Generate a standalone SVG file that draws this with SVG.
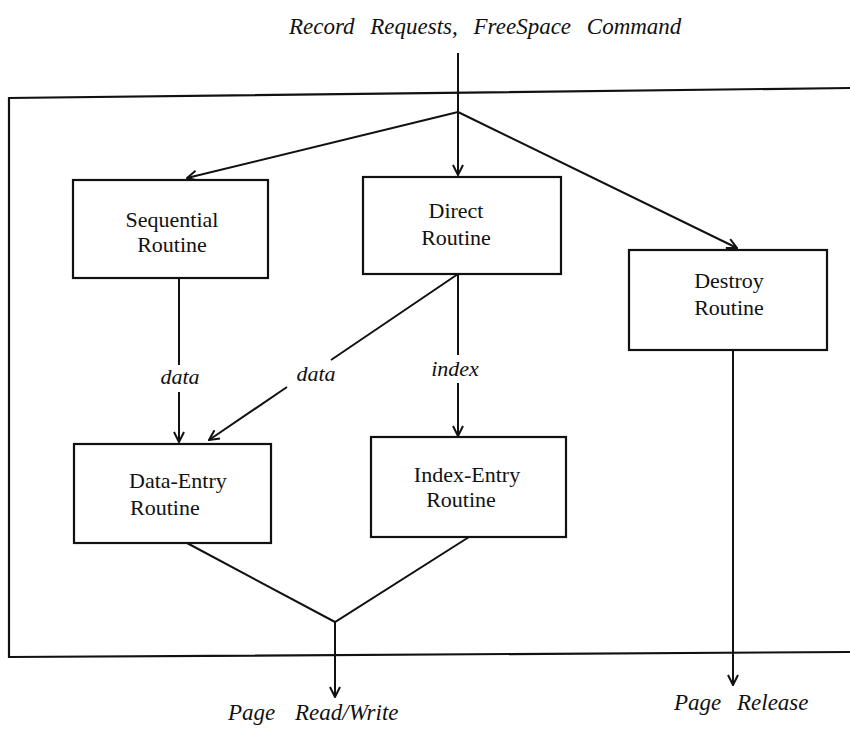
<svg xmlns="http://www.w3.org/2000/svg" width="850" height="729" viewBox="0 0 850 729">
<style>
.box{fill:#fff;stroke:#111;stroke-width:2.2}
.t{font-family:"Liberation Serif",serif;font-size:22px;fill:#111}
.lab{font-family:"Liberation Serif",serif;font-style:italic;font-size:22px;fill:#111}
.big{font-size:23px}
.ln{fill:none;stroke:#111;stroke-width:2}
.frame{fill:none;stroke:#111;stroke-width:2.2}
</style>
<defs>
<marker id="ah" viewBox="0 0 12 12" refX="11" refY="6" markerWidth="12" markerHeight="12" markerUnits="userSpaceOnUse" orient="auto">
<path d="M1,1 L11,6 L1,11" fill="none" stroke="#111" stroke-width="2"/>
</marker>
</defs>
<rect width="850" height="729" fill="#fff"/>
<path class="frame" d="M850,88 L9,98 L9,657 L850,652"/>
<text class="lab big" x="289" y="34" word-spacing="10">Record Requests, FreeSpace Command</text>
<text class="lab big" x="228" y="720" word-spacing="14">Page Read/Write</text>
<text class="lab big" x="674" y="710" word-spacing="10">Page Release</text>
<g id="connectors">
<path class="ln" d="M458,53 L458,112"/>
<path class="ln" d="M458,112 L187,178" marker-end="url(#ah)"/>
<path class="ln" d="M458,112 L458,175" marker-end="url(#ah)"/>
<path class="ln" d="M458,112 L737,248" marker-end="url(#ah)"/>
<path class="ln" d="M179,278 L179,365"/>
<path class="ln" d="M179,392 L179,442" marker-end="url(#ah)"/>
<path class="ln" d="M458,274 L331,360"/>
<path class="ln" d="M287,387 L209,440" marker-end="url(#ah)"/>
<path class="ln" d="M458,274 L458,355"/>
<path class="ln" d="M458,383 L458,436" marker-end="url(#ah)"/>
<path class="ln" d="M187,543 L335,622 L469,537"/>
<path class="ln" d="M335,622 L335,697" marker-end="url(#ah)"/>
<path class="ln" d="M733,350 L733,685" marker-end="url(#ah)"/>
<text class="lab" x="180" y="384" text-anchor="middle">data</text>
<text class="lab" x="316" y="381" text-anchor="middle">data</text>
<text class="lab" x="455" y="376" text-anchor="middle">index</text>
</g>
<g id="sequential">
<rect class="box" x="73" y="180" width="195" height="98"/>
<text class="t" x="172" y="227" text-anchor="middle">Sequential</text>
<text class="t" x="172" y="252" text-anchor="middle">Routine</text>
</g>
<g id="direct">
<rect class="box" x="363" y="177" width="198" height="97"/>
<text class="t" x="456" y="218" text-anchor="middle">Direct</text>
<text class="t" x="456" y="245" text-anchor="middle">Routine</text>
</g>
<g id="destroy">
<rect class="box" x="629" y="250" width="198" height="100"/>
<text class="t" x="729" y="288" text-anchor="middle">Destroy</text>
<text class="t" x="729" y="315" text-anchor="middle">Routine</text>
</g>
<g id="data-entry">
<rect class="box" x="74" y="444" width="197" height="99"/>
<text class="t" x="129" y="488">Data-Entry</text>
<text class="t" x="130" y="515">Routine</text>
</g>
<g id="index-entry">
<rect class="box" x="371" y="437" width="195" height="100"/>
<text class="t" x="467" y="482" text-anchor="middle">Index-Entry</text>
<text class="t" x="461" y="507" text-anchor="middle">Routine</text>
</g>
</svg>
